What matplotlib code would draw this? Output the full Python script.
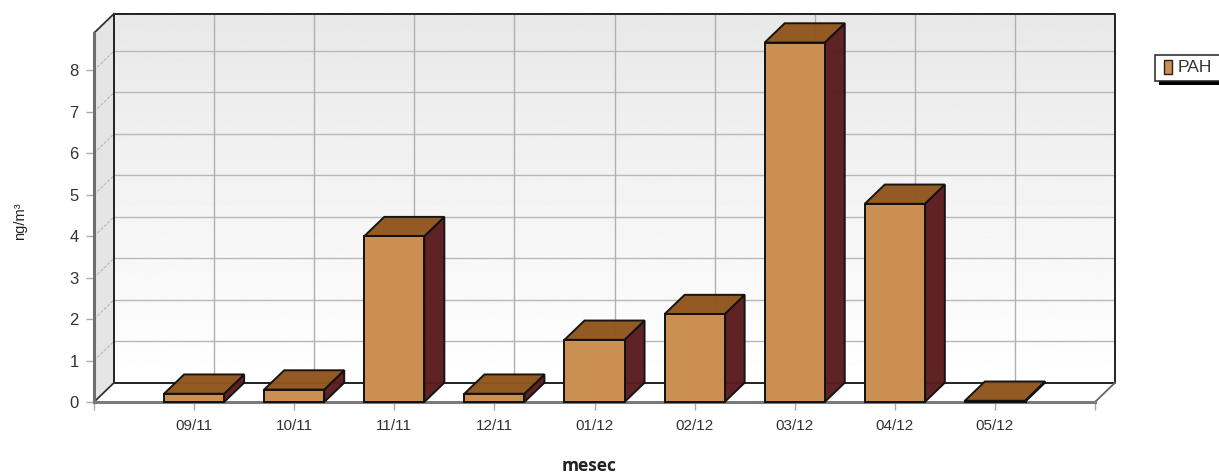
import numpy as np
import matplotlib
matplotlib.use("Agg")
import matplotlib.pyplot as plt
from matplotlib.patches import Polygon, Rectangle

categories = ["09/11", "10/11", "11/11", "12/11", "01/12", "02/12", "03/12", "04/12", "05/12"]
values = [0.2, 0.3, 4.0, 0.2, 1.5, 2.12, 8.67, 4.78, 0.03]
y_ticks = [0, 1, 2, 3, 4, 5, 6, 7, 8]
series_name = "PAH"
x_label = "mesec"
y_label = "ng/m³"

W, H = 1219, 476
plt.rcParams['font.family'] = ['Liberation Sans', 'DejaVu Sans']
fig = plt.figure(figsize=(W / 100, H / 100), dpi=100)
ax = fig.add_axes([94 / W, (H - 402) / H, (1095 - 94) / W, (402 - 33) / H])
xmin, xmax, ymin, ymax = -1, 9, 0, 8.9
ax.set_xlim(xmin, xmax)
ax.set_ylim(ymin, ymax)
ax.patch.set_visible(False)
for s in ax.spines.values():
    s.set_visible(False)

dx, dy = 0.2, 0.465
bw = 0.6
edge = "#111111"

# back wall gradient
grad = np.linspace(0.91, 1.0, 256).reshape(-1, 1)
ax.imshow(grad, extent=(xmin + dx, xmax + dx, ymin + dy, ymax + dy), cmap="gray", vmin=0, vmax=1,
          origin="upper", aspect="auto", zorder=1, clip_on=False)
ax.set_xlim(xmin, xmax)
ax.set_ylim(ymin, ymax)

# left wall
ax.add_patch(Polygon([(xmin, ymin), (xmin + dx, ymin + dy), (xmin + dx, ymax + dy), (xmin, ymax)],
                     closed=True, fc="#e5e5e5", ec="none", zorder=1.5, clip_on=False))

# grid on back wall
for t in y_ticks[1:]:
    ax.plot([xmin + dx, xmax + dx], [t + dy, t + dy], color="#b8b8b8", lw=1.0, zorder=2, clip_on=False)
    ax.plot([xmin, xmin + dx], [t, t + dy], color="#bcbcbc", lw=0.9, ls=(0, (2.5, 1.2)), zorder=2, clip_on=False)
for i in range(len(categories)):
    ax.plot([i + dx, i + dx], [dy, ymax + dy], color="#b0b0b0", lw=1.0, zorder=2, clip_on=False)

# frame
kw = dict(zorder=3, clip_on=False, solid_capstyle="projecting")
ax.plot([xmin + dx, xmax + dx, xmax + dx, xmin + dx, xmin + dx],
        [ymax + dy, ymax + dy, dy, dy, ymax + dy], color="#222222", lw=1.4, **kw)
ax.plot([xmin, xmin + dx], [ymax, ymax + dy], color="#333333", lw=1.3, **kw)
ax.plot([xmin, xmin + dx], [0, dy], color="#333333", lw=1.3, **kw)
ax.plot([xmax, xmax + dx], [0, dy], color="#666666", lw=1.3, **kw)
ax.plot([xmin, xmin], [0, ymax], color="#6e6e6e", lw=2.2, **kw)
ax.plot([xmin, xmax], [0, 0], color="#7a7a7a", lw=2.2, **kw)

# bars
for i, v in enumerate(values):
    l, r = i - bw / 2, i + bw / 2
    ax.add_patch(Polygon([(r, 0), (r + dx, dy), (r + dx, v + dy), (r, v)], fc="#5a1c1e", zorder=4,
                         closed=True, ec=edge, lw=1.4, alpha=0.97, clip_on=False))
    ax.add_patch(Polygon([(l, v), (r, v), (r + dx, v + dy), (l + dx, v + dy)], fc="#90561c", zorder=5,
                         closed=True, ec=edge, lw=1.4, alpha=0.97, clip_on=False))
    if v > 0.05:
        ax.add_patch(Rectangle((l, 0), bw, v, fc="#cc8f52", ec=edge, lw=1.4, zorder=6, clip_on=False))
    else:
        ax.plot([l, r], [v, v], color=edge, lw=2.2, zorder=6, clip_on=False)

# ticks
ax.set_xticks(range(-1, len(categories) + 1))
ax.set_xticklabels([""] + categories + [""], fontsize=11, color="#333333")
ax.set_yticks(y_ticks)
ax.set_yticklabels([str(t) for t in y_ticks], fontsize=12, color="#333333")
ax.tick_params(axis="x", length=6, width=1, color="#aaaaaa", pad=6)
ax.tick_params(axis="y", length=6, width=1, color="#aaaaaa", pad=5)

fig.text(20 / W, 1 - 221 / H, y_label, rotation=90, ha="center", va="center", fontsize=10.5, color="#222222")
fig.text(589 / W, 1 - 466 / H, x_label, ha="center", va="center", fontsize=12.5, fontweight="bold",
         family="Open Sans", color="#222222")

# legend
ov = fig.add_axes([0, 0, 1, 1])
ov.set_xlim(0, W)
ov.set_ylim(H, 0)
ov.axis("off")
ov.patch.set_visible(False)
ov.add_patch(Rectangle((1159, 60), 70, 25, fc="black", ec="none"))
ov.add_patch(Rectangle((1154.5, 54.5), 70, 26, fc="white", ec="#222222", lw=1.1))
ov.add_patch(Rectangle((1163.5, 59.5), 8, 14, fc="#cc8f52", ec="#222222", lw=1))
ov.text(1178, 67, series_name, fontsize=12.5, va="center", ha="left", color="#333333")

fig.savefig("out.png", dpi=100)
